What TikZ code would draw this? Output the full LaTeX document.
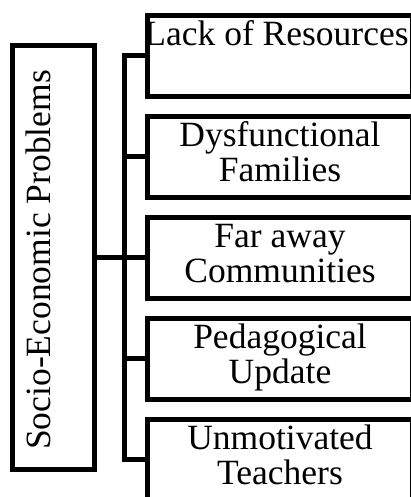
\documentclass[tikz,border=0pt]{standalone}
\usepackage{fontspec}
\setmainfont{Liberation Serif}
\usetikzlibrary{positioning}

\begin{document}
\begin{tikzpicture}[
      x=1pt, y=1pt,
      line width=5pt,
      every node/.style = {font=\fontsize{35.5}{35}\selectfont},
      mainbox/.style = {
          draw,
          inner sep=0pt,
          minimum width=82pt,
          minimum height=424.5pt,
        },
      cause/.style = {
          draw,
          align=center,
          inner sep=0pt,
          text depth=10pt,
          minimum width=265pt,
          minimum height=81pt,
        },
      node distance=15pt,
    ]
    \useasboundingbox (0,0) rectangle (410,497);

    \node[mainbox] (root) at (53.5,239.25) {};
    \node[rotate=90, anchor=base] (rootlabel) at (50,237) {Socio-Economic Problems};

    \node[cause] (lack) at (280,441) {\hspace*{-7pt}Lack of Resources\\\mbox{}};
    \node[cause, below=of lack] (family) {Dysfunctional\\Families};
    \node[cause, below=of family] (far) {Far away\\Communities};
    \node[cause, below=of far] (update) {Pedagogical\\Update};
    \node[cause, below=of update] (teacher) {Unmotivated\\Teachers};

    \coordinate (hub) at ([xshift=27pt]root.east);
    \draw (root.east) -- (hub);
    \foreach \n in {lack, family, far, update, teacher}
      \draw (hub) |- (\n.west);

  \end{tikzpicture}
\end{document}
